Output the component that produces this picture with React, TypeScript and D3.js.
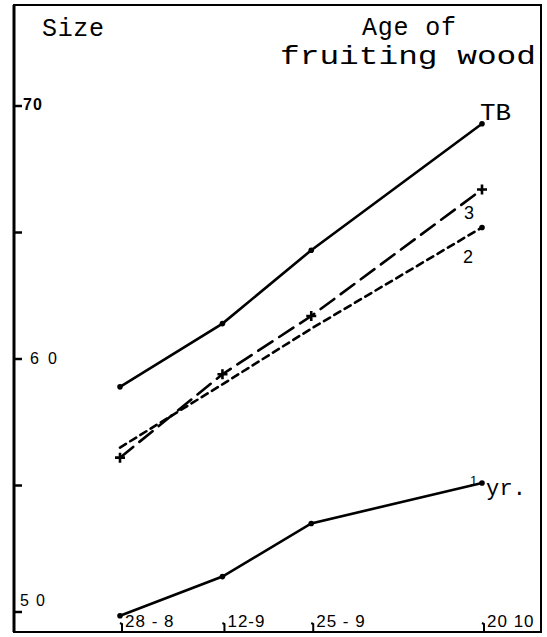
import React, { useEffect, useRef } from 'react';
import * as d3 from 'd3';

// sampling dates (day-month)
const dates = ['1958-08-28', '1958-09-12', '1958-09-25', '1958-10-20'];
const dateLabels = ['28 - 8', '12-9', '25 - 9', '20 10'];

// fruit size by age of fruiting wood
const seriesTB = [58.9, 61.4, 64.3, 69.3];
const series3 = [56.1, 59.4, 61.7, 66.7];
const series2 = [56.5, 59.0, 61.2, 65.2];
const series1yr = [49.85, 51.4, 53.5, 55.1];

const yTicks = [50, 55, 60, 65, 70];
const yLabels = ['50', '60', '70'];

const W = 547;
const H = 637;

const App = () => {
  const ref = useRef<SVGSVGElement>(null);

  useEffect(() => {
    const svg = d3.select(ref.current);
    svg.selectAll('*').remove();

    const parse = d3.timeParse('%Y-%m-%d');
    const days = dates.map(d => parse(d) as Date);

    const x = d3.scaleTime().domain([days[0], days[3]]).range([120, 482]);
    const y = d3.scaleLinear().domain([50, 70]).range([612, 106]);

    const frame = { l: 14, t: 5, r: 541, b: 632 };
    const type = '"Liberation Mono", "DejaVu Sans Mono", monospace';
    const sans = '"Liberation Sans", Arial, sans-serif';

    // frame
    svg.append('rect')
      .attr('x', frame.l).attr('y', frame.t)
      .attr('width', frame.r - frame.l).attr('height', frame.b - frame.t)
      .attr('fill', 'none').attr('stroke', '#000').attr('stroke-width', 2);
    svg.append('line')
      .attr('x1', frame.l).attr('x2', frame.l)
      .attr('y1', frame.t).attr('y2', frame.b)
      .attr('stroke', '#000').attr('stroke-width', 3);

    // y ticks, pointing inward
    svg.selectAll('line.yt')
      .data(yTicks)
      .enter().append('line')
      .attr('x1', frame.l).attr('x2', frame.l + 8)
      .attr('y1', d => y(d)).attr('y2', d => y(d))
      .attr('stroke', '#000').attr('stroke-width', 2.5);

    const labelX: Record<string, number> = { '70': 23, '60': 30, '50': 20 };
    const labelDy: Record<string, number> = { '70': 4, '60': 5, '50': -6 };
    const labelLs: Record<string, number> = { '70': 1, '60': 9, '50': 7 };
    svg.selectAll('text.yl')
      .data(yLabels)
      .enter().append('text')
      .attr('x', d => labelX[d])
      .attr('y', d => y(+d) + labelDy[d])
      .attr('font-family', sans)
      .attr('font-weight', d => (d === '70' ? 'bold' : 'normal'))
      .attr('font-size', 16)
      .attr('letter-spacing', d => labelLs[d])
      .text(d => d);

    // x ticks at the bottom with labels to the right
    svg.selectAll('path.xt')
      .data(days)
      .enter().append('path')
      .attr('d', d => `M${x(d) + 2},${frame.b} L${x(d) + 2},${frame.b - 8} l-2,-1`)
      .attr('fill', 'none').attr('stroke', '#000').attr('stroke-width', 2);

    svg.selectAll('text.xl')
      .data(days)
      .enter().append('text')
      .attr('x', d => x(d) + 5)
      .attr('y', frame.b - 5)
      .attr('font-family', sans)
      .attr('font-size', 17)
      .attr('letter-spacing', 1)
      .text((d, i) => dateLabels[i]);

    const line = d3.line<number>()
      .x((d, i) => x(days[i]))
      .y(d => y(d));

    const drawSeries = (vals: number[], dash: string | null, marker: 'dot' | 'cross' | 'end') => {
      svg.append('path')
        .attr('d', line(vals))
        .attr('fill', 'none')
        .attr('stroke', '#000')
        .attr('stroke-width', 2.6)
        .attr('stroke-dasharray', dash)
        .attr('stroke-linecap', 'round');
      if (marker === 'cross') {
        svg.selectAll(null)
          .data(vals)
          .enter().append('path')
          .attr('d', (d, i) => {
            const cx = x(days[i]);
            const cy = y(d);
            return `M${cx - 5},${cy} L${cx + 5},${cy} M${cx},${cy - 5} L${cx},${cy + 5}`;
          })
          .attr('stroke', '#000')
          .attr('stroke-width', 2.6);
      } else {
        const offset = marker === 'end' ? 3 : 0;
        svg.selectAll(null)
          .data(vals.slice(offset))
          .enter().append('circle')
          .attr('cx', (d, i) => x(days[i + offset]))
          .attr('cy', d => y(d))
          .attr('r', 2.8)
          .attr('fill', '#000');
      }
    };

    drawSeries(seriesTB, null, 'dot');
    drawSeries(series3, '17 8', 'cross');
    drawSeries(series2, '7 5', 'end');
    drawSeries(series1yr, null, 'dot');

    // series labels
    const last = days[3];
    svg.append('text')
      .attr('x', x(last) - 2).attr('y', y(seriesTB[3]) - 4)
      .attr('font-family', type).attr('font-size', 23)
      .attr('textLength', 31).attr('lengthAdjust', 'spacingAndGlyphs')
      .text('TB');
    svg.append('text')
      .attr('x', x(last) - 18).attr('y', y(series3[3]) + 30)
      .attr('font-family', sans).attr('font-size', 18)
      .text('3');
    svg.append('text')
      .attr('x', x(last) - 19).attr('y', y(series2[3]) + 36)
      .attr('font-family', sans).attr('font-size', 18)
      .text('2');
    svg.append('text')
      .attr('x', x(last) - 12).attr('y', y(series1yr[3]) + 2)
      .attr('font-family', sans).attr('font-size', 13)
      .text('1');
    svg.append('text')
      .attr('x', x(last) + 4).attr('y', y(series1yr[3]) + 12)
      .attr('font-family', type).attr('font-size', 22)
      .attr('textLength', 40).attr('lengthAdjust', 'spacing')
      .text('yr.');

    // titles, typewritten
    svg.append('text')
      .attr('x', 42).attr('y', 36)
      .attr('font-family', type).attr('font-size', 25)
      .attr('textLength', 62).attr('lengthAdjust', 'spacing')
      .text('Size');
    svg.append('text')
      .attr('x', 362).attr('y', 35)
      .attr('font-family', type).attr('font-size', 25)
      .attr('textLength', 94).attr('lengthAdjust', 'spacing')
      .text('Age of');
    svg.append('text')
      .attr('x', 280).attr('y', 64)
      .attr('font-family', type).attr('font-size', 26)
      .attr('textLength', 256).attr('lengthAdjust', 'spacingAndGlyphs')
      .text('fruiting wood');
  }, []);

  return (
    <svg ref={ref} width={W} height={H} style={{ display: 'block', position: 'absolute', left: 0, top: 0 }} />
  );
};

export default App;
